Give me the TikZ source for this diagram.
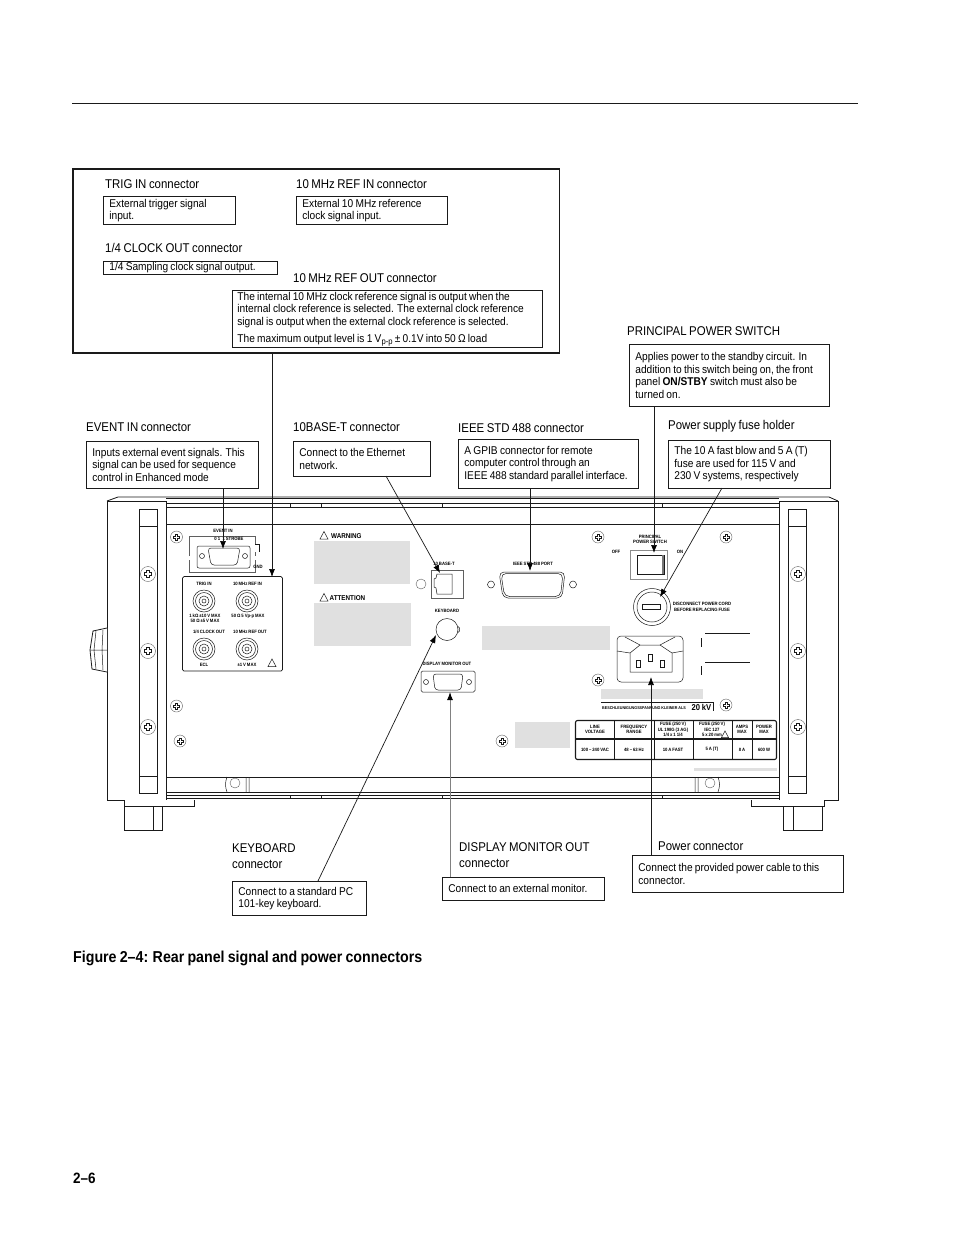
\documentclass[tikz,border=0pt]{standalone}
\usepackage{fontspec}
\setmainfont[FakeStretch=0.9,WordSpace=0.8]{Liberation Sans}
\usetikzlibrary{arrows.meta,positioning,calc}
\definecolor{blank}{HTML}{E0E0E0}
\definecolor{dark}{HTML}{1A1A1A}
\tikzset{
  notebox/.style={draw=dark, line width=0.8pt, anchor=north west, align=flush left, inner xsep=6pt, inner ysep=2pt, font=\fontsize{11.3}{12.6}\selectfont},
  heading/.style={anchor=base west, inner sep=0pt, align=left, font=\fontsize{12.7}{16}\selectfont},
  arrow/.style={-{Latex[length=8pt,width=6pt,black]}, line width=0.7pt, draw=dark},
  tiny/.style={inner sep=0pt, align=center, font=\fontsize{4.7}{5.4}\bfseries\selectfont},
  screw/.style={draw=dark!70, line width=0.4pt, circle, minimum size=12pt, inner sep=0pt},
  railscrew/.style={screw, minimum size=15pt},
  blankout/.style={fill=blank, draw=none},
  thinline/.style={draw=dark, line width=0.5pt},
  railline/.style={draw=dark, line width=0.8pt},
  crosshead/.pic={\draw[draw=dark, line width=0.5pt, fill=white] (-1.3,-3.6) -- (1.3,-3.6) -- (1.3,-1.3) -- (3.6,-1.3) -- (3.6,1.3) -- (1.3,1.3) -- (1.3,3.6) -- (-1.3,3.6) -- (-1.3,1.3) -- (-3.6,1.3) -- (-3.6,-1.3) -- (-1.3,-1.3) -- cycle;}
}
\begin{document}
\begin{tikzpicture}[x=1pt,y=-1pt]
  \useasboundingbox (0,0) rectangle (954,1235);
  \node[fill=white, minimum width=954pt, minimum height=1235pt, anchor=north west, inner sep=0pt] (page) at (0,0) {};
  \draw[line width=1pt, draw=dark] (72,103) -- (858,103);

  % clock connector group
  \draw[draw=dark, line width=1.2pt] (73,169) rectangle (559.5,353);
  \coordinate (clockout) at (272,353);
  \node[heading] (triglabel) at (105,188.5) {TRIG IN connector};
  \node[notebox, text width=120pt, minimum height=28pt] (trignote) at (103,196) {External trigger signal\\input.};
  \node[heading] (reflabel) at (296,188.5) {10 MHz REF IN connector};
  \node[notebox, text width=139pt, minimum height=28pt] (refnote) at (296,196) {External 10 MHz reference\\clock signal input.};
  \node[heading] (quarterlabel) at (105,252) {1/4 CLOCK OUT connector};
  \node[notebox, text width=162pt, minimum height=13pt, inner ysep=0pt] (quarternote) at (103,261) {1/4 Sampling clock signal output.};
  \node[heading] (outlabel) at (293,282) {10 MHz REF OUT connector};
  \node[notebox, text width=300pt, minimum height=57pt, inner ysep=0pt, inner xsep=5pt] (outnote) at (232,290) {The internal 10 MHz clock reference signal is output when the\\internal clock reference is selected. The external clock reference\\signal is output when the external clock reference is selected.\\[4pt]The maximum output level is 1 V\raisebox{-2pt}{\fontsize{8.5}{8.5}\selectfont p-p} ± 0.1V into 50 Ω load};

  % upper callouts
  \node[heading] (eventlabel) at (86,431) {EVENT IN connector};
  \node[notebox, text width=160pt, minimum height=47pt] (eventnote) at (86,441) {Inputs external event signals. This\\signal can be used for sequence\\control in Enhanced mode};
  \node[heading] (baselabel) at (293,431) {10BASE-T connector};
  \node[notebox, text width=125pt, minimum height=35pt] (basenote) at (293,441) {Connect to the Ethernet\\network.};
  \node[heading] (ieeelabel) at (458,432) {IEEE STD 488 connector};
  \node[notebox, text width=168pt, minimum height=49pt] (ieeenote) at (458,439) {A GPIB connector for remote\\computer control through an\\IEEE 488 standard parallel interface.};
  \node[heading] (switchlabel) at (627,335) {PRINCIPAL POWER SWITCH};
  \node[notebox, text width=188pt, minimum height=62pt] (switchnote) at (629,344) {Applies power to the standby circuit. In\\addition to this switch being on, the front\\panel \textbf{ON/STBY} switch must also be\\turned on.};
  \node[heading] (fuselabel) at (668,429) {Power supply fuse holder};
  \node[notebox, text width=150pt, minimum height=48pt] (fusenote) at (668,440) {The 10 A fast blow and 5 A (T)\\fuse are used for 115 V and\\230 V systems, respectively};

  % lower callouts
  \node[heading, anchor=west] (keylabel) at (232,856) {KEYBOARD\\connector};
  \node[notebox, text width=122pt, minimum height=34pt] (keynote) at (232,881) {Connect to a standard PC\\101-key keyboard.};
  \node[heading, anchor=west] (displabel) at (459,855) {DISPLAY MONITOR OUT\\connector};
  \node[notebox, text width=150pt, minimum height=23pt] (dispnote) at (442,877) {Connect to an external monitor.};
  \node[heading] (powerlabel) at (658,850) {Power connector};
  \node[notebox, text width=199pt, minimum height=37pt] (powernote) at (632,855) {Connect the provided power cable to this\\connector.};

  % chassis
  \draw[railline] (107,501) -- (118,497) -- (829,497) -- (838,501);
  \foreach \y in {498,503,507,524,777,792,795,798}
    \draw[railline] (166,\y) -- (779,\y);
  \foreach \x in {290,321,442,662}
    \draw[thinline] (\x,503) -- (\x,507) (\x,795) -- (\x,798);
  \foreach \x/\y in {107/139, 779/788} {
    \draw[railline, fill=white] (\x,501) rectangle ++(59,299);
    \draw[thinline] (\y,509) rectangle ++(18,284);
    \draw[thinline] (\y,526) -- ++(18,0) (\y,776) -- ++(18,0);
  }
  \draw[railline, fill=white] (124,800) -- (124,806) -- (194,806) -- (194,800);
  \draw[railline] (124,806) rectangle (162,830) (153,806) -- (153,830);
  \draw[railline, fill=white] (751,800) -- (751,806) -- (824,806) -- (824,800);
  \draw[railline] (783,806) rectangle (822,830) (793,806) -- (793,830);
  \draw[railline, fill=white] (107,628) -- (93,631) -- (90,650) -- (92,669) -- (107,672);
  \draw[thinline] (90,650) -- (107,650) (96,631) -- (94,650) -- (96,669) (103,630) -- (102,650) -- (103,670);

  % screws
  \foreach \x/\y [count=\i] in {148/574,148/651,148/727,798/574,798/651,798/727} {
    \node[railscrew, fill=white] (railscrew\i) at (\x,\y) {};
    \pic at (\x,\y) {crosshead};
  }
  \foreach \x/\y [count=\i] in {176.5/537,176.5/706,180/741,598/537,726/537,598/680,726/705,502/741} {
    \node[screw] (panelscrew\i) at (\x,\y) {};
    \pic[scale=0.8] at (\x,\y) {crosshead};
  }
  \node[screw, minimum size=10pt] (basescrew) at (421,584) {};
  \node[screw, minimum size=10pt] (mounta) at (235,783) {};
  \draw[thinline] (227,777) to[bend right=20] (227,792) (246,777) -- (246,792) (249,777) -- (249,792);
  \node[screw, minimum size=10pt] (mountb) at (710,783) {};
  \draw[thinline] (718,777) to[bend left=20] (718,792) (695,777) -- (695,792) (698,777) -- (698,792);

  % blanked labels
  \fill[blankout] (314,541) rectangle (410,584);
  \fill[blankout] (314,603) rectangle (411,646);
  \fill[blankout] (482,626) rectangle (610,650);
  \fill[blankout] (601,689) rectangle (703,699);
  \fill[blankout] (515,722) rectangle (570,748);
  \fill[blankout] (694,768) rectangle (777,771);
  \draw[thinline] (324,531.5) -- (320,539) -- (328,539) -- cycle;
  \node[tiny, font=\fontsize{7}{7}\bfseries\selectfont, anchor=base west] (warntext) at (331,538) {WARNING};
  \draw[thinline] (324,593.5) -- (320,601) -- (328,601) -- cycle;
  \node[tiny, font=\fontsize{7}{7}\bfseries\selectfont, anchor=base west] (attntext) at (329.5,600.5) {ATTENTION};

  % event in plate
  \draw[draw=dark!70, line width=0.5pt] (189,556) -- (189,536) -- (255,536) -- (255,544) (255,552) -- (255,556) (255,560) -- (255,572) -- (189,572) -- (189,560);
  \node[tiny] (eventtext) at (223,531) {EVENT IN};
  \node[tiny] (eventbits) at (229,539) {0 1 \,\,1 STROBE};
  \node[tiny] (eventgnd) at (258,566.5) {GND};
  \draw[thinline, rounded corners=2pt] (197,546) rectangle (250,568);
  \draw[thinline, rounded corners=3pt] (208,548) -- (240,548) -- (237,565) -- (211,565) -- cycle;
  \draw[thinline] (202,556) circle (2.5) (245,556) circle (2.5);
  \draw[thinline] (255,544) -- (259,544) -- (259,552);

  % signal panel
  \draw[draw=dark, line width=0.7pt, rounded corners=1.5pt] (182.5,576.5) rectangle (282.5,671);
  \node[tiny] (trigtext) at (204,584) {TRIG IN};
  \node[tiny] (reftext) at (247.5,584) {10 MHz REF IN};
  \node[tiny] (trigspec) at (205,618.5) {1 kΩ ±10 V MAX\\50 Ω ±5 V MAX};
  \node[tiny] (refspec) at (248,616) {50 Ω 5 Vp-p MAX};
  \node[tiny] (quartertext) at (209,632) {1/4 CLOCK OUT};
  \node[tiny] (outtext) at (250,632) {10 MHz REF OUT};
  \node[tiny] (ecltext) at (204,665) {ECL};
  \node[tiny] (outspec) at (247,665) {±1 V MAX};
  \foreach \x/\y/\n in {204/601/trig,247/601/ref,204/649/quarter,247/649/out} {
    \draw[thinline] (\x,\y) circle (11) (\x,\y) circle (8.5) (\x,\y) circle (5) (\x,\y) circle (2);
  }
  \draw[thinline] (272,659) -- (268,666.5) -- (276,666.5) -- cycle;

  % network and display ports
  \node[tiny] (basetext) at (444,563.5) {10 BASE-T};
  \draw[draw=dark!70, line width=0.6pt] (431.5,570) rectangle (463,598);
  \draw[thinline] (452,574) -- (437,574) -- (436,578) -- (434,579) -- (434,587) -- (436,588) -- (437,594) -- (452,594) -- cycle;
  \node[tiny] (keytext) at (447,611) {KEYBOARD};
  \draw[thinline] (447,629.5) circle (11);
  \draw[thinline] (458,626.5) -- (459.5,628) -- (459.5,631) -- (458,632.5);
  \node[tiny] (disptext) at (447,664) {DISPLAY MONITOR OUT};
  \draw[thinline, rounded corners=1.5pt] (421,671) rectangle (475,692);
  \draw[thinline, rounded corners=3pt] (433,674) -- (463,674) -- (461,690) -- (435,690) -- cycle;
  \draw[thinline] (426,682) circle (2.5) (469,682) circle (2.5);

  % gpib port
  \node[tiny] (ieeetext) at (533,564) {IEEE STD 488 PORT};
  \draw[thinline, rounded corners=5pt] (499,572) -- (565,572) -- (562,598) -- (503,598) -- cycle;
  \draw[thinline, rounded corners=5pt] (501,573.5) -- (563,573.5) -- (560.5,596.5) -- (504.5,596.5) -- cycle;
  \draw[thinline] (491,584.5) circle (3.5) (573,584.5) circle (3.5);

  % power switch and fuse
  \node[tiny] (switchtext) at (650,539.5) {PRINCIPAL\\POWER SWITCH};
  \node[tiny] (offtext) at (616,552) {OFF};
  \node[tiny] (ontext) at (680,552) {ON};
  \draw[draw=dark!50, line width=1pt] (630,550) rectangle (667,579);
  \draw[thinline] (637,555) rectangle (664,574);
  \fill[dark!60] (661.5,555) rectangle (664,574);
  \draw[thinline] (652,607) circle (18.5) (652,607) circle (15);
  \draw[thinline] (642,604) rectangle (660,609);
  \node[tiny] (discotext) at (702,607) {DISCONNECT POWER CORD\\BEFORE REPLACING FUSE};
  \draw[railline] (705,633) -- (750,633) (705,662) -- (750,662);
  \draw[railline] (701.5,638) -- (701.5,647) (701.5,666) -- (701.5,675);

  % power inlet
  \draw[thinline, rounded corners=4pt] (617,636) rectangle (683,682);
  \draw[thinline] (640,645) -- (660,645) -- (672,653) -- (672,672) -- (630,672) -- (630,653) -- cycle;
  \draw[thinline] (617,651) -- (630,653) (625,637) -- (640,645) (683,651) -- (672,653) (675,637) -- (660,645);
  \draw[thinline] (636,660) rectangle (640,667) (648,654) rectangle (652,661) (660,660) rectangle (664,667);

  % rating plate
  \draw[railline] (601,702) -- (713,702) -- (713,711);
  \node[tiny, anchor=base west, font=\fontsize{4.1}{5}\bfseries\selectfont] (accelerate) at (602,709) {BESCHLEUNIGUNGSSPANNUNG KLEINER ALS};
  \node[tiny, anchor=base east, font=\fontsize{8.5}{9}\bfseries\selectfont] (kvtext) at (711.5,710) {20 kV};
  \draw[draw=dark, line width=1.1pt, rounded corners=2pt] (575.5,720.5) rectangle (776.5,759.5);
  \draw[draw=dark, line width=1.1pt] (575.5,739) -- (776.5,739);
  \foreach \x in {614,654,693,732,752}
    \draw[draw=dark, line width=0.8pt] (\x,720.5) -- (\x,759.5);
  \foreach \x/\t [count=\i] in {595/{LINE\\VOLTAGE},634/{FREQUENCY\\RANGE},673/{FUSE (250 V)\\UL 198G (3 AG)\\1/4 x 1 1/4},712/{FUSE (250 V)\\IEC 127\\5 x 20 mm},742/{AMPS\\MAX},764/{POWER\\MAX}}
    \node[tiny] (ratinghead\i) at (\x,729.5) {\t};
  \foreach \x/\t [count=\i] in {595/100 -- 240 VAC,634/48 -- 63 Hz,673/10 A FAST,712/5 A (T),742/8 A,764/600 W}
    \node[tiny] (ratingcell\i) at (\x,749.5) {\t};
  \draw[thinline] (725,731) -- (721.5,737.5) -- (728.5,737.5) -- cycle;

  % connectors
  \coordinate (eventend) at (223,549);
  \coordinate (panelend) at (272,577);
  \coordinate (baseend) at (440,573);
  \coordinate (baseout) at (386,476);
  \coordinate (ieeeend) at (530,571);
  \coordinate (switchend) at (654,553);
  \coordinate (fuseend) at (660,597);
  \coordinate (fuseout) at (722,488);
  \coordinate (keyend) at (436,635);
  \coordinate (keyout) at (318,881);
  \coordinate (dispend) at (450,692);
  \coordinate (powerend) at (651,677);
  \draw[arrow] (clockout) -- (panelend);
  \draw[arrow] (eventnote.south -| eventend) -- (eventend);
  \draw[arrow] (baseout) -- (baseend);
  \draw[arrow] (ieeenote.south -| ieeeend) -- (ieeeend);
  \draw[arrow] (switchnote.south -| switchend) -- (switchend);
  \draw[arrow] (fuseout) -- (fuseend);
  \draw[arrow] (keyout) -- (keyend);
  \draw[arrow, draw=dark!55, line width=1pt] (dispnote.north -| dispend) -- (dispend);
  \draw[arrow] (powernote.north -| powerend) -- (powerend);

  % caption and folio
  \node[anchor=base west, inner sep=0pt, font=\bfseries\fontsize{15.8}{18}\selectfont] (caption) at (73,962) {Figure 2--4: Rear panel signal and power connectors};
  \node[anchor=base west, inner sep=0pt, font=\bfseries\fontsize{15}{18}\selectfont] (folio) at (73,1183) {2--6};
\end{tikzpicture}
\end{document}
